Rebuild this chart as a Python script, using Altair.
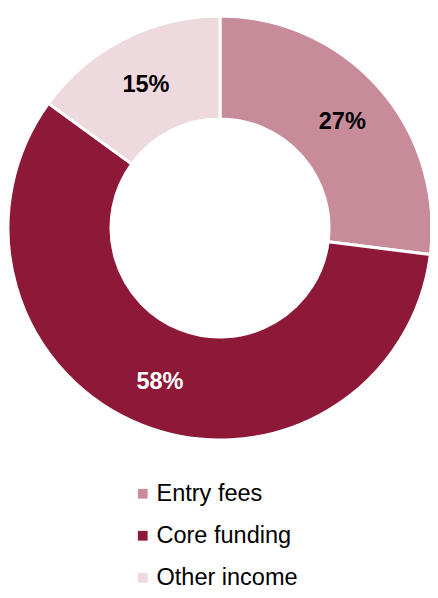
import altair as alt
import pandas as pd

categories = ["Entry fees", "Core funding", "Other income"]
values = [27, 58, 15]
labels = ["27%", "58%", "15%"]
colors = ["#C78B9A", "#8E1838", "#EED9DF"]

df = pd.DataFrame({
    "category": categories,
    "value": values,
    "label": labels,
    "idx": list(range(len(categories))),
})

base = alt.Chart(df).encode(
    theta=alt.Theta("value:Q", stack=True),
    order=alt.Order("idx:Q"),
)

arcs = base.mark_arc(outerRadius=212, innerRadius=109, stroke="white", strokeWidth=3).encode(
    color=alt.Color(
        "category:N",
        scale=alt.Scale(domain=categories, range=colors),
        legend=alt.Legend(
            title=None,
            orient="none",
            legendX=119,
            legendY=474,
            direction="vertical",
            labelFont="Liberation Sans",
            labelFontSize=23.5,
            labelColor="black",
            symbolType="square",
            symbolSize=95,
            symbolStrokeWidth=0,
            rowPadding=17,
            labelOffset=2,
            padding=0,
        ),
    )
)

text = base.mark_text(
    radius=163, dy=2, font="Liberation Sans", fontSize=23.5, fontWeight="bold"
).encode(
    text="label:N",
    color=alt.condition(
        alt.datum.category == "Core funding", alt.value("white"), alt.value("black")
    ),
)

chart = (
    alt.layer(arcs, text)
    .properties(
        width=416,
        height=440,
        padding={"left": 4, "top": 0, "right": 2, "bottom": 142},
        autosize=alt.AutoSizeParams(type="none"),
    )
    .configure_view(stroke=None)
)

chart.save("out.html", embed_options={"renderer": "svg", "actions": False})
